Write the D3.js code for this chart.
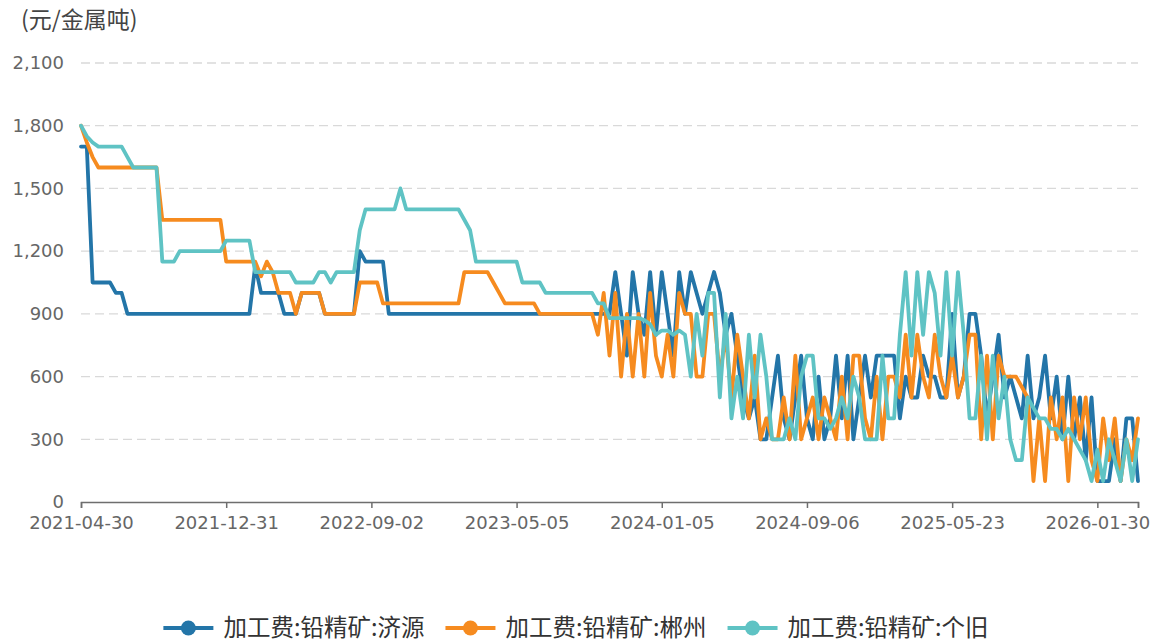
<!DOCTYPE html>
<html>
<head>
<meta charset="utf-8">
<script src="https://cdn.jsdelivr.net/npm/d3@7"></script>
<style>
  body { margin: 0; background: #fff; }
  svg { display: block; font-family: "DejaVu Sans", sans-serif; }
</style>
</head>
<body>
<svg id="chart" width="1163" height="643"></svg>
<script>
// category axis: weekly-ish observations, labelled every 25th point
const tickPositions = [0, 25, 50, 75, 100, 125, 150, 175, 182];
const tickLabels = ["2021-04-30", "2021-12-31", "2022-09-02", "2023-05-05", "2024-01-05",
                    "2024-09-06", "2025-05-23", "2026-01-30", ""];
const yTicks = [0, 300, 600, 900, 1200, 1500, 1800, 2100];
const unitLabel = "(元/金属吨)";
const seriesNames = ["加工费:铅精矿:济源", "加工费:铅精矿:郴州", "加工费:铅精矿:个旧"];

const jiyuan = [
  1700,1700,1050,1050,1050,1050,1000,1000,900,900,
  900,900,900,900,900,900,900,900,900,900,
  900,900,900,900,900,900,900,900,900,900,
  1130,1000,1000,1000,1000,900,900,900,1000,1000,
  1000,1000,900,900,900,900,900,900,1200,1150,
  1150,1150,1150,900,900,900,900,900,900,900,
  900,900,900,900,900,900,900,900,900,900,
  900,900,900,900,900,900,900,900,900,900,
  900,900,900,900,900,900,900,900,900,900,
  900,900,1100,900,700,1100,900,800,1100,800,
  1100,900,700,1100,900,1100,1000,900,1000,1100,
  1000,800,900,700,500,400,500,300,300,500,
  700,400,300,500,700,400,300,600,300,400,
  700,400,700,300,500,700,500,700,700,700,
  700,400,600,500,500,700,600,600,500,500,
  900,500,600,900,900,700,400,600,800,500,
  600,500,400,700,400,500,700,400,600,300,
  600,300,500,200,500,100,100,100,300,100,
  400,400,100
];

const chenzhou = [
  1800,1720,1650,1600,1600,1600,1600,1600,1600,1600,
  1600,1600,1600,1600,1350,1350,1350,1350,1350,1350,
  1350,1350,1350,1350,1350,1150,1150,1150,1150,1150,
  1150,1080,1150,1100,1000,1000,1000,900,1000,1000,
  1000,1000,900,900,900,900,900,900,1050,1050,
  1050,1050,950,950,950,950,950,950,950,950,
  950,950,950,950,950,950,1100,1100,1100,1100,
  1100,1050,1000,950,950,950,950,950,950,900,
  900,900,900,900,900,900,900,900,900,800,
  1000,700,1000,600,900,600,900,600,1000,700,
  600,800,600,1000,900,900,600,600,900,900,
  600,800,500,800,600,400,700,300,400,300,
  300,500,300,700,300,400,500,300,500,400,
  300,600,300,700,700,400,300,600,300,600,
  600,500,800,500,800,600,500,800,600,500,
  700,500,600,800,800,300,700,300,700,600,
  600,600,550,500,100,400,100,500,300,500,
  100,500,300,500,200,100,400,200,400,100,
  300,200,400
];

const gejiu = [
  1800,1750,1720,1700,1700,1700,1700,1700,1650,1600,
  1600,1600,1600,1600,1150,1150,1150,1200,1200,1200,
  1200,1200,1200,1200,1200,1250,1250,1250,1250,1250,
  1100,1100,1100,1100,1100,1100,1100,1050,1050,1050,
  1050,1100,1100,1050,1100,1100,1100,1100,1300,1400,
  1400,1400,1400,1400,1400,1500,1400,1400,1400,1400,
  1400,1400,1400,1400,1400,1400,1350,1300,1150,1150,
  1150,1150,1150,1150,1150,1150,1050,1050,1050,1050,
  1000,1000,1000,1000,1000,1000,1000,1000,1000,950,
  950,880,880,880,880,880,880,870,850,800,
  820,820,800,820,800,600,900,700,1000,1000,
  500,900,400,600,400,800,500,800,600,300,
  300,300,400,300,600,700,700,400,400,350,
  400,500,400,600,500,300,300,300,700,400,
  400,800,1100,700,1100,800,1100,1000,700,1100,
  700,1100,800,400,400,700,300,700,400,600,
  300,200,200,500,450,400,400,350,350,300,
  350,300,250,200,100,250,100,300,200,100,
  300,100,300
];

const series = [
  { name: seriesNames[0], values: jiyuan,   color: "#2375a8" },
  { name: seriesNames[1], values: chenzhou, color: "#f68b1f" },
  { name: seriesNames[2], values: gejiu,    color: "#5fc3c4" }
];

const svg = d3.select("#chart");
const margin = { left: 81, right: 25, top: 63, bottom: 141 };
const W = +svg.attr("width"), H = +svg.attr("height");

const x = d3.scaleLinear().domain([0, jiyuan.length - 1]).range([margin.left, W - margin.right]);
const y = d3.scaleLinear().domain([0, 2100]).range([H - margin.bottom, margin.top]);

// grid
svg.append("g")
  .selectAll("line")
  .data(yTicks.filter(d => d > 0))
  .join("line")
    .attr("x1", margin.left).attr("x2", W - margin.right)
    .attr("y1", d => y(d)).attr("y2", d => y(d))
    .attr("stroke", "#d9d9d9").attr("stroke-width", 1.3)
    .attr("stroke-dasharray", "9,5");

// y labels
svg.append("g")
  .selectAll("text")
  .data(yTicks)
  .join("text")
    .attr("x", 64).attr("y", d => y(d))
    .attr("dy", "0.35em")
    .attr("text-anchor", "end")
    .attr("fill", "#666")
    .style("font-size", "18px")
    .text(d => d3.format(",")(d));

svg.append("text")
  .attr("x", 21).attr("y", 28)
  .attr("fill", "#444")
  .style("font-family", "'Noto Sans CJK SC', sans-serif")
  .style("font-size", "23px")
  .text(unitLabel);

// x axis
const xAxis = d3.axisBottom(x)
  .tickValues(tickPositions)
  .tickFormat((d, i) => tickLabels[i])
  .tickSize(6)
  .tickPadding(8);

const gx = svg.append("g")
  .attr("transform", `translate(0,${y(0)})`)
  .call(xAxis);
gx.select(".domain").attr("stroke", "#6e6e6e").attr("stroke-width", 1.5);
gx.selectAll(".tick line").attr("stroke", "#6e6e6e").attr("stroke-width", 1.5);
gx.selectAll(".tick text")
  .attr("fill", "#666")
  .style("font-family", "'DejaVu Sans', sans-serif")
  .style("font-size", "18px");

// lines
const line = d3.line()
  .x((d, i) => x(i))
  .y(d => y(d));

svg.append("g")
  .selectAll("path")
  .data(series)
  .join("path")
    .attr("d", d => line(d.values))
    .attr("fill", "none")
    .attr("stroke", d => d.color)
    .attr("stroke-width", 3.8)
    .attr("stroke-linejoin", "round")
    .attr("stroke-linecap", "round");

// legend
const legend = svg.append("g").attr("transform", `translate(0,628)`);
const items = legend.selectAll("g")
  .data(series)
  .join("g");
items.append("line")
  .attr("x1", 0).attr("x2", 50)
  .attr("stroke", d => d.color).attr("stroke-width", 4);
items.append("circle")
  .attr("cx", 25).attr("r", 7.5)
  .attr("fill", d => d.color);
items.append("text")
  .attr("x", 60).attr("dy", "0.36em")
  .attr("fill", "#333")
  .style("font-family", "'Noto Sans CJK SC', sans-serif")
  .style("font-size", "23.5px")
  .text(d => d.name);

const widths = [];
items.each(function () { widths.push(this.getBBox().width); });
const gap = 21;
const total = d3.sum(widths) + gap * (widths.length - 1);
let cursor = 576 - total / 2;
items.attr("transform", (d, i) => {
  const t = `translate(${cursor},0)`;
  cursor += widths[i] + gap;
  return t;
});
</script>
</body>
</html>
